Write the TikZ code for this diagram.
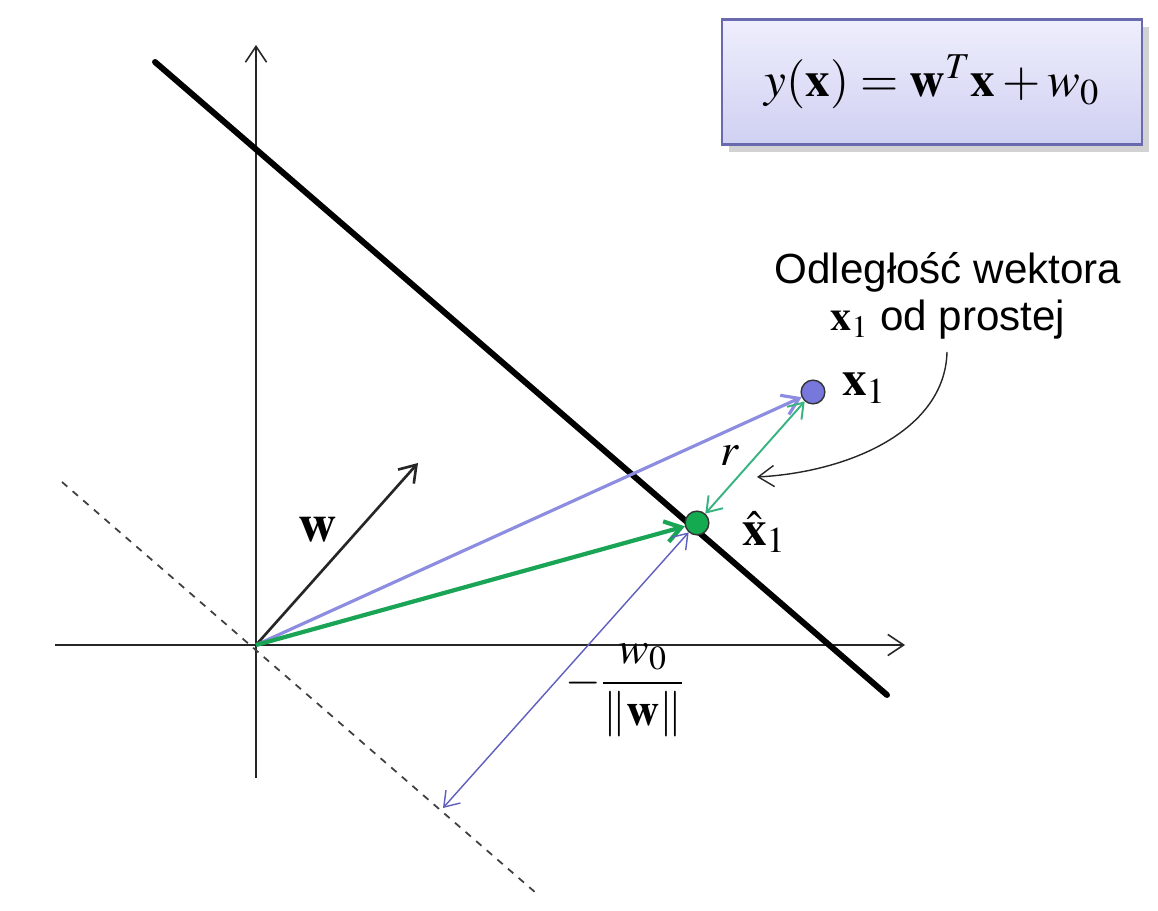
\documentclass[tikz,border=0pt]{standalone}
\usepackage{mathptmx}
\usepackage{fontspec}
\setmainfont{Liberation Serif}
\setsansfont{Liberation Sans}
\usetikzlibrary{arrows.meta,shadows}

\definecolor{boxtop}{RGB}{238,238,253}
\definecolor{boxbot}{RGB}{208,208,242}
\definecolor{boxline}{RGB}{105,105,175}
\definecolor{vecblue}{RGB}{140,140,225}
\definecolor{distblue}{RGB}{95,95,190}
\definecolor{vecgreen}{RGB}{25,165,85}
\definecolor{rgreen}{RGB}{55,180,130}
\definecolor{ptblue}{RGB}{120,120,220}
\definecolor{ptgreen}{RGB}{20,170,80}

\tikzset{
    barb/.style={-{Straight Barb[length=9pt,width=12pt]}},
    twobarb/.style={{Straight Barb[length=8pt,width=11pt]}-{Straight Barb[length=8pt,width=11pt]}},
    point/.style={circle, draw=black!80, line width=0.8pt, minimum size=13.5pt, inner sep=0pt},
    lab/.style={inner sep=1pt, font=\fontsize{28}{30}\selectfont},
}

\begin{document}
\begin{tikzpicture}[x=0.02cm, y=-0.02cm]
    \useasboundingbox (0,0) rectangle (1158,911);
    \fill[white] (0,0) rectangle (1158,911);

    % Axes
    \coordinate (O) at (256,645);
    \coordinate (yb) at (256,778);
    \coordinate (yt) at (256,45);
    \coordinate (xl) at (55,645);
    \coordinate (xr) at (905,645);
    \draw[barb, line width=0.9pt, black!85] (yb) -- (yt);
    \draw[barb, line width=0.9pt, black!85] (xl) -- (xr);

    % Decision line and parallel line through the origin
    \coordinate (La) at (155,62);
    \coordinate (Lb) at (887,695);
    \draw[line width=3.4pt, line cap=round] (La) -- (Lb);
    \coordinate (Da) at (62,482);
    \coordinate (Db) at (536,893);
    \coordinate (D) at (443,808);
    \draw[dashed, line width=1pt, black!75, dash pattern=on 4pt off 4pt] (Da) -- (Db);

    % Points
    \node[point, fill=ptblue] (x1) at (813,392) {};
    \node[point, fill=ptgreen] (xh) at (697,523) {};
    \node[lab, anchor=west] (x1lab) at (840,388) {$\mathbf{x}_1$};
    \node[lab, anchor=west] (xhlab) at (740,532) {$\hat{\mathbf{x}}_1$};

    % Vector w
    \coordinate (wt) at (418,463);
    \draw[barb, line width=1.5pt, black!85] (O) -- (wt);
    \node[lab, font=\fontsize{30}{32}\selectfont] (wlab) at (318,530) {$\mathbf{w}$};

    % Vectors to the points
    \draw[barb, line width=1.8pt, vecblue] (O) -- (x1);
    \draw[barb, line width=2.4pt, vecgreen] (O) -- (xh);
    \draw[twobarb, line width=1.1pt, rgreen] (xh) -- (x1);
    \node[lab, font=\fontsize{26}{28}\selectfont] (rlab) at (730,456) {$r$};
    \draw[twobarb, line width=0.8pt, distblue] (D) -- (xh);
    \node[lab, font=\fontsize{26}{28}\selectfont] (w0lab) at (625,690) {$-\displaystyle\frac{w_0}{\|\mathbf{w}\|}$};

    % Formula box
    \node[draw=boxline, line width=1.2pt, top color=boxtop, bottom color=boxbot,
          drop shadow={shadow xshift=4pt, shadow yshift=-4pt, opacity=0.35},
          minimum width=8.4cm, minimum height=2.5cm,
          font=\fontsize{28}{32}\selectfont] (formula) at (932,82)
          {$y(\mathbf{x}) = \mathbf{w}^T\mathbf{x} + w_0$};

    % Annotation
    \node[font=\sffamily\fontsize{24}{27}\selectfont, align=center] (note) at (948,296)
          {Odległość wektora\\$\mathbf{x}_1$ od prostej};
    \coordinate (ns) at (947,352);
    \coordinate (ne) at (757,477);
    \draw[-{Straight Barb[length=9pt,width=12pt]}, line width=0.8pt, black!85]
          (ns) .. controls (945,430) and (850,472) .. (ne);
\end{tikzpicture}
\end{document}
